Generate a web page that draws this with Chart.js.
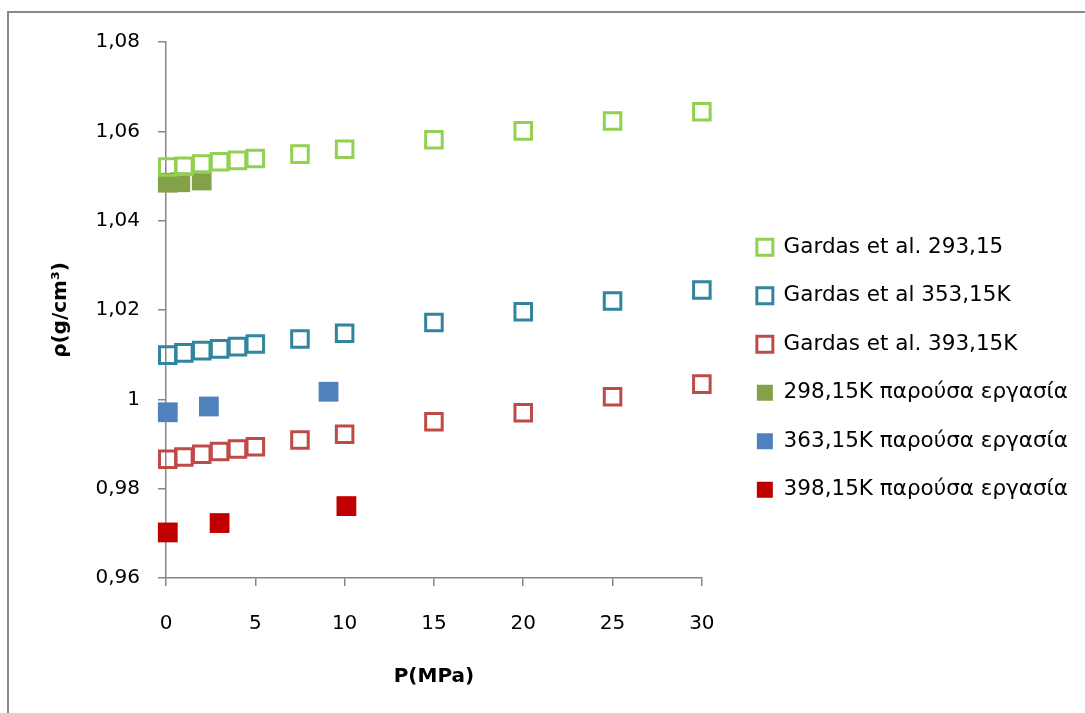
<!DOCTYPE html>
<html>
<head>
<meta charset="utf-8">
<script src="https://cdn.jsdelivr.net/npm/chart.js@4/dist/chart.umd.min.js"></script>
<style>
  html, body { margin: 0; padding: 0; background: #fff; overflow: hidden; }
  #wrap { position: relative; width: 1085px; height: 713px; overflow: hidden; }
  #frame { position: absolute; left: 7px; top: 11px; width: 1100px; height: 720px;
           border-top: 2px solid #898989; border-left: 2px solid #898989; }
  canvas { position: absolute; left: 0; top: 0; }
</style>
</head>
<body>
<div id="wrap">
  <div id="frame"></div>
  <canvas id="myChart" width="1085" height="713"></canvas>
</div>
<script>
// pressures (MPa) of the literature data
var gardasP = [0.1, 1, 2, 3, 4, 5, 7.5, 10, 15, 20, 25, 30];
var gardas293 = [1.0520, 1.0522, 1.0527, 1.0532, 1.0535, 1.0539, 1.0549, 1.0560, 1.0581, 1.0601, 1.0623, 1.0644];
var gardas353 = [1.0099, 1.0104, 1.0109, 1.0113, 1.0118, 1.0124, 1.0135, 1.0148, 1.0172, 1.0196, 1.0220, 1.0245];
var gardas393 = [0.9866, 0.9871, 0.9877, 0.9883, 0.9889, 0.9894, 0.9909, 0.9922, 0.9950, 0.9970, 1.0006, 1.0034];

// this work
var p298 = [0.1, 0.8, 2.0];
var rho298 = [1.0485, 1.0486, 1.0490];
var p363 = [0.1, 2.4, 9.1];
var rho363 = [0.9971, 0.9984, 1.0017];
var p398 = [0.1, 3.0, 10.1];
var rho398 = [0.9702, 0.9723, 0.9761];

var seriesLabels = ['Gardas et al. 293,15', 'Gardas et al 353,15K', 'Gardas et al. 393,15K',
  '298,15K παρούσα εργασία', '363,15K παρούσα εργασία', '398,15K παρούσα εργασία'];
var yTickLabels = ['0,96', '0,98', '1', '1,02', '1,04', '1,06', '1,08'];
var xTickLabels = ['0', '5', '10', '15', '20', '25', '30'];

function pts(xs, ys) {
  return xs.map(function (x, i) { return {x: x, y: ys[i]}; });
}

var FONT = '"DejaVu Sans", "Open Sans", sans-serif';
var AXIS = '#868686';

function hollow(label, xs, ys, color) {
  return {
    label: label, data: pts(xs, ys), clip: false,
    pointStyle: 'rect', pointRadius: 11.7, pointHoverRadius: 11.7,
    borderColor: color, backgroundColor: 'rgba(255,255,255,0)',
    pointBorderWidth: 3, borderWidth: 2.5
  };
}
function filled(label, xs, ys, color) {
  return {
    label: label, data: pts(xs, ys), clip: false,
    pointStyle: 'rect', pointRadius: 14, pointHoverRadius: 14,
    borderColor: color, backgroundColor: color,
    pointBorderWidth: 0, borderWidth: 0
  };
}

var ctx = document.getElementById('myChart').getContext('2d');
var myChart = new Chart(ctx, {
  type: 'scatter',
  data: {
    datasets: [
      hollow(seriesLabels[0], gardasP, gardas293, '#92D050'),
      hollow(seriesLabels[1], gardasP, gardas353, '#31859C'),
      hollow(seriesLabels[2], gardasP, gardas393, '#BE4B48'),
      filled(seriesLabels[3], p298, rho298, '#83A247'),
      filled(seriesLabels[4], p363, rho363, '#4F81BD'),
      filled(seriesLabels[5], p398, rho398, '#C00000')
    ]
  },
  options: {
    responsive: false,
    animation: false,
    layout: { padding: { left: 45, top: 42, right: 7, bottom: 18 } },
    plugins: {
      tooltip: { enabled: false },
      legend: {
        position: 'right',
        maxWidth: 420,
        labels: {
          boxWidth: 16, boxHeight: 16, padding: 27,
          color: '#000',
          font: { family: FONT, size: 21.5 }
        }
      }
    },
    scales: {
      x: {
        type: 'linear', min: 0, max: 30,
        afterFit: function (s) { s.height = 117; },
        border: { display: true, color: AXIS, width: 1.5 },
        grid: { drawOnChartArea: false, drawTicks: true, tickLength: 8, color: AXIS, lineWidth: 1.5 },
        ticks: {
          stepSize: 5, padding: 26, color: '#000', maxRotation: 0,
          font: { family: FONT, size: 20 },
          callback: function (v, i) { return xTickLabels[i]; }
        },
        title: {
          display: true, text: 'P(MPa)', color: '#000',
          font: { family: FONT, size: 20, weight: 'bold' },
          padding: { top: 4, bottom: 6 }
        }
      },
      y: {
        type: 'linear', min: 0.96, max: 1.08,
        afterFit: function (s) { s.width = 121; },
        border: { display: true, color: AXIS, width: 1.5 },
        grid: { drawOnChartArea: false, drawTicks: true, tickLength: 8, color: AXIS, lineWidth: 1.5 },
        ticks: {
          stepSize: 0.02, padding: 18, color: '#000',
          font: { family: FONT, size: 20 },
          callback: function (v, i) { return yTickLabels[i]; }
        },
        title: {
          display: true, text: 'ρ(g/cm³)', color: '#000',
          font: { family: FONT, size: 20, weight: 'bold' }
        }
      },
      gap: {
        type: 'linear', position: 'right', display: true,
        afterFit: function (s) { s.width = 28; },
        border: { display: false },
        grid: { display: false },
        ticks: { display: false }
      }
    }
  }
});
</script>
</body>
</html>
